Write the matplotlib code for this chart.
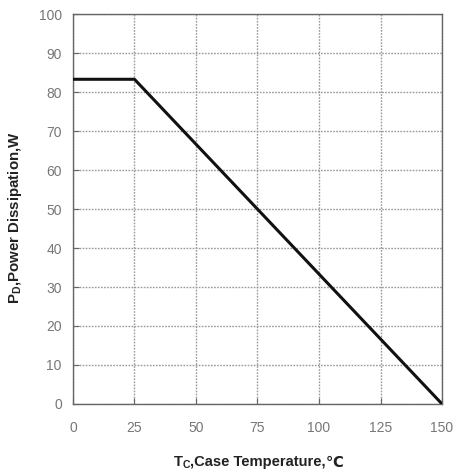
import matplotlib
matplotlib.use("Agg")
import matplotlib.pyplot as plt

# derating curve
temp = [0, 25, 150]
power = [83.3, 83.3, 0]
xticks = [0, 25, 50, 75, 100, 125, 150]
yticks = [0, 10, 20, 30, 40, 50, 60, 70, 80, 90, 100]

plt.rcParams['font.family'] = ['Liberation Sans', 'DejaVu Sans']

fig = plt.figure(figsize=(4.59, 4.73), dpi=100)
ax = fig.add_axes([0.159, 0.146, 0.804, 0.824])

ax.plot(temp, power, color='#111111', lw=2.2, solid_capstyle='butt', zorder=3)

ax.set_xlim(0, 150)
ax.set_ylim(0, 100)
ax.set_xticks(xticks)
ax.set_yticks(yticks)
ax.grid(True, color='#999999', ls=(0, (1.2, 1)), lw=1.0)
for s in ax.spines.values():
    s.set_color('#666666')
    s.set_linewidth(1.0)
ax.tick_params(axis='both', colors='#666666', labelcolor='#777777', labelsize=10,
               length=4, direction='in')
ax.tick_params(axis='x', pad=12)
ax.tick_params(axis='y', pad=8)

ax.set_ylabel('P$_\\mathregular{D}$,Power Dissipation,W', fontsize=10.8, fontweight='bold',
              color='#222222')
ax.yaxis.set_label_coords(-0.132, 0.477)

# x label built from pieces so the degree sign can fall back to DejaVu
r = fig.canvas.get_renderer()
lab_y = 1 - 462 / 473
kw = dict(fontsize=10.6, fontweight='bold', color='#222222', va='center')
parts = [('T', {}), ('C', dict(fontsize=7.5, offset=-3)), (',Case Temperature,', {}),
         ('\u2103', dict(family=['DejaVu Sans']))]
texts = []
for s, opt in parts:
    o = dict(kw)
    off = opt.pop('offset', 0)
    o.update(opt)
    t = fig.text(0, lab_y + off / 473, s, **o)
    texts.append(t)
widths = [t.get_window_extent(r).width for t in texts]
x0 = 259 - sum(widths) / 2
for t, w in zip(texts, widths):
    t.set_x(x0 / 459)
    x0 += w

fig.savefig('out.png', dpi=100)
